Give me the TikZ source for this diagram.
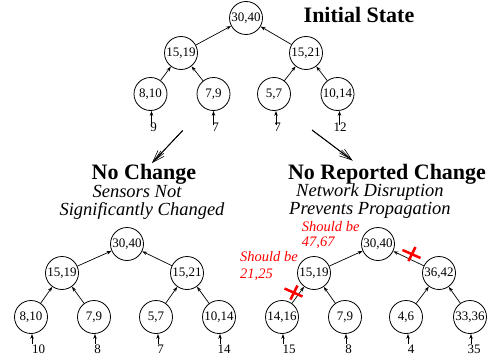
\documentclass[tikz,border=0pt]{standalone}
\usepackage{fontspec}
\setmainfont{Liberation Serif}
\usetikzlibrary{arrows.meta}
\begin{document}
\begin{tikzpicture}[x=1pt,y=-1pt,
  nd/.style={circle,draw,line width=0.8pt,minimum size=33pt,inner sep=0pt,font=\fontsize{13}{13}\selectfont},
  edge/.style={line width=0.7pt,-{Stealth[length=5pt,width=3.5pt]}},
  num/.style={anchor=base,font=\fontsize{13}{13}\selectfont,inner sep=0pt},
  ttl/.style={anchor=base,font=\fontsize{22}{22}\selectfont\bfseries,inner sep=0pt},
  sub/.style={anchor=base,font=\fontsize{18.5}{18.5}\selectfont\itshape,inner sep=0pt},
  rtxt/.style={anchor=base west,text=red,font=\fontsize{14.5}{14.5}\selectfont\itshape,inner sep=0pt},
  cross/.style={draw=red,line width=2.5pt},
  bigarrow/.style={line width=0.8pt}
]
\useasboundingbox (0,0) rectangle (493,356);

% ---------- Top tree ----------
\node[nd] (T)   at (246,18) {30,40};
\node[nd] (T1)  at (181,53) {15,19};
\node[nd] (T2)  at (306,53) {15,21};
\node[nd] (T11) at (150.5,94) {8,10};
\node[nd] (T12) at (213.5,94) {7,9};
\node[nd] (T21) at (274,94) {5,7};
\node[nd] (T22) at (337.5,94) {10,14};
\draw[edge] (T1) -- (T);
\draw[edge] (T2) -- (T);
\draw[edge] (T11) -- (T1);
\draw[edge] (T12) -- (T1);
\draw[edge] (T21) -- (T2);
\draw[edge] (T22) -- (T2);
\foreach \n/\x in {T11/151.5,T12/213.5,T21/276,T22/339.5}{
  \coordinate (a\n) at (\x,125);
  \draw[edge] (a\n) -- (a\n |- \n.south);
}
\node[num] (nT11) at (153.5,131.7) {9};
\node[num] (nT12) at (215.5,131.7) {7};
\node[num] (nT21) at (277.5,131.7) {7};
\node[num] (nT22) at (340,131.7) {12};
\node[ttl] (title) at (359,22.7) {Initial State};

% ---------- Big arrows ----------
\coordinate (la1) at (182.7,130.5);
\coordinate (la2) at (152,163);
\coordinate (ra1) at (312,130);
\coordinate (ra2) at (352.5,160.5);
\foreach \ang in {16,38}{
  \draw[bigarrow,-{Straight Barb[angle=\ang:13pt,line width=0.6pt]}] (la1) -- (la2);
  \draw[bigarrow,-{Straight Barb[angle=\ang:13pt,line width=0.6pt]}] (ra1) -- (ra2);
}

% ---------- Left captions ----------
\node[ttl] (lt) at (144,179) {No Change};
\node[sub] (ls1) at (137,197.7) {Sensors Not};
\node[sub] (ls2) at (142,215) {Significantly Changed};

% ---------- Right captions ----------
\node[ttl] (rt) at (387,179) {No Reported Change};
\node[sub,anchor=base west] (rs1) at (296,196.7) {Network Disruption};
\node[sub,anchor=base west] (rs2) at (289,214) {Prevents Propagation};

% ---------- Bottom left tree ----------
\node[nd] (L)   at (127,244) {30,40};
\node[nd] (L1)  at (62,273) {15,19};
\node[nd] (L2)  at (187,273) {15,21};
\node[nd] (L11) at (31,317) {8,10};
\node[nd] (L12) at (94,317) {7,9};
\node[nd] (L21) at (156,317) {5,7};
\node[nd] (L22) at (219,317) {10,14};
\draw[edge] (L1) -- (L);
\draw[edge] (L2) -- (L);
\draw[edge] (L11) -- (L1);
\draw[edge] (L12) -- (L1);
\draw[edge] (L21) -- (L2);
\draw[edge] (L22) -- (L2);
\foreach \n/\x in {L11/32,L12/95,L21/158,L22/220}{
  \coordinate (a\n) at (\x,344);
  \draw[edge] (a\n) -- (a\n |- \n.south);
}
\node[num] (nL11) at (38.5,353) {10};
\node[num] (nL12) at (97.5,353) {8};
\node[num] (nL21) at (160.5,353) {7};
\node[num] (nL22) at (224,353) {14};

% ---------- Bottom right tree ----------
\node[nd] (R)   at (378,244) {30,40};
\node[nd] (R1)  at (314,273) {15,19};
\node[nd] (R2)  at (439,273) {36,42};
\node[nd] (R11) at (282,317) {14,16};
\node[nd] (R12) at (345,317) {7,9};
\node[nd] (R21) at (406,317) {4,6};
\node[nd] (R22) at (470,317) {33,36};
\draw[edge] (R1) -- (R);
\draw[edge] (R2) -- (R);
\draw[edge] (R11) -- (R1);
\draw[edge] (R12) -- (R1);
\draw[edge] (R21) -- (R2);
\draw[edge] (R22) -- (R2);
\foreach \n/\x in {R11/283,R12/346,R21/408,R22/471}{
  \coordinate (a\n) at (\x,344);
  \draw[edge] (a\n) -- (a\n |- \n.south);
}
\node[num] (nR11) at (289,353) {15};
\node[num] (nR12) at (348.5,353) {8};
\node[num] (nR21) at (411,353) {4};
\node[num] (nR22) at (474,353) {35};

% ---------- Red annotations ----------
\node[rtxt] (s1a) at (301.7,231.7) {Should be};
\node[rtxt] (s1b) at (301.7,246.7) {47,67};
\node[rtxt] (s2a) at (240,261.7) {Should be};
\node[rtxt] (s2b) at (240,278.3) {21,25};

\coordinate (x1) at (411.5,254);
\coordinate (x2) at (293.5,292.5);
\foreach \c in {x1,x2}{
  \draw[cross] (\c) ++(-9,-4) -- ++(18,8);
  \draw[cross] (\c) ++(4,-7) -- ++(-7,14);
}
\end{tikzpicture}
\end{document}
